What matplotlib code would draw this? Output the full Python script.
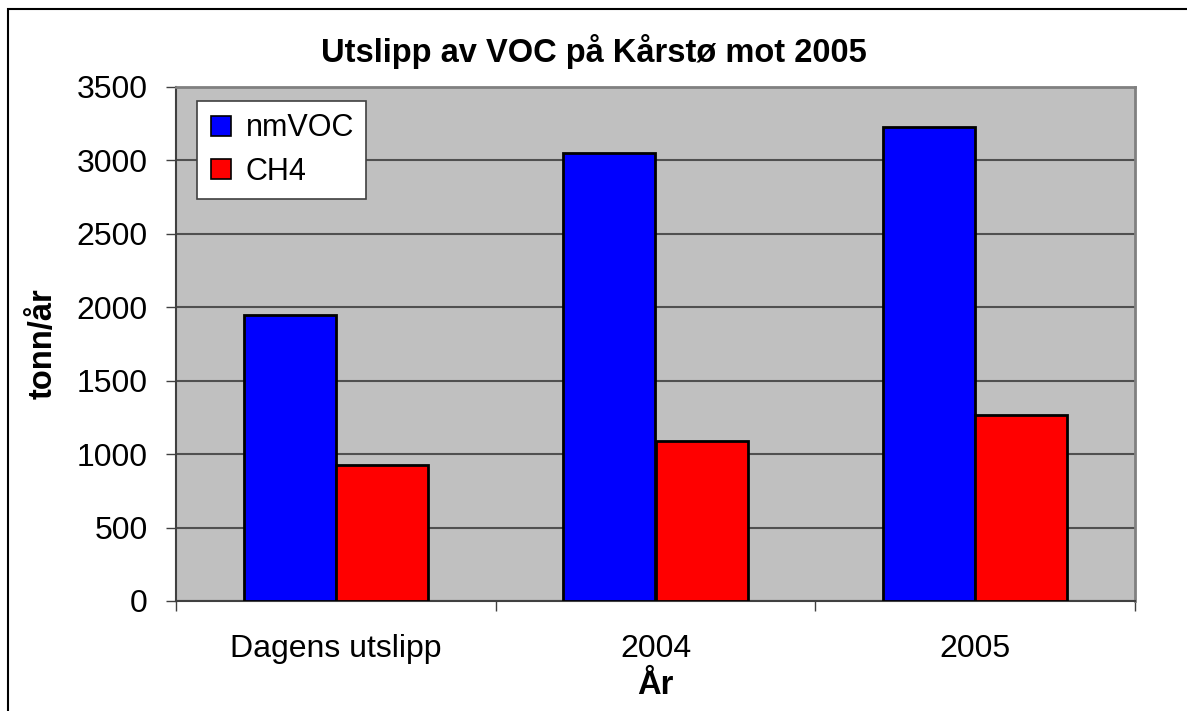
import numpy as np
import matplotlib.pyplot as plt
from matplotlib.patches import Rectangle
from matplotlib.lines import Line2D

plt.rcParams['font.family'] = ['Liberation Sans', 'DejaVu Sans']

# Data
categories = ["Dagens utslipp", "2004", "2005"]
nmvoc = [1950, 3050, 3225]
ch4 = [925, 1090, 1265]
series_names = ["nmVOC", "CH4"]
y_ticks = [0, 500, 1000, 1500, 2000, 2500, 3000, 3500]

W, H = 1187, 711
fig = plt.figure(figsize=(W / 100, H / 100), dpi=100)

# outer chart border (cropped at right/bottom in the original)
fig.patches.append(Rectangle((8 / W, -0.1), 1.2, 1 - 9 / H + 0.1, transform=fig.transFigure,
                             fill=False, edgecolor='black', linewidth=1.5))

ax = fig.add_axes([176 / W, 1 - 601 / H, (1135 - 176) / W, (601 - 87) / H])
ax.set_facecolor('#C0C0C0')

x = np.arange(len(categories))
bw = 0.288
ax.bar(x - bw / 2, nmvoc, bw, color='#0000FF', edgecolor='black', linewidth=2, zorder=3)
ax.bar(x + bw / 2, ch4, bw, color='#FF0000', edgecolor='black', linewidth=2, zorder=3)

ax.set_xlim(-0.5, len(categories) - 0.5)
ax.set_ylim(0, 3500)
ax.set_yticks(y_ticks)
ax.yaxis.grid(True, color='#505050', linewidth=1.5, zorder=1)
ax.set_axisbelow(True)

ax.set_xticks(x)
ax.set_xticklabels(categories)
ax.set_xticks(np.arange(len(categories) + 1) - 0.5, minor=True)
ax.tick_params(axis='x', which='major', length=0, pad=24, labelsize=23)
ax.tick_params(axis='x', which='minor', length=7, width=1, color='#404040', direction='out')
ax.tick_params(axis='y', length=7, width=1, color='#404040', labelsize=23, pad=13.5)

for side in ['top', 'right']:
    ax.spines[side].set_color('#808080')
    ax.spines[side].set_linewidth(2)
for side in ['left', 'bottom']:
    ax.spines[side].set_color('#404040')
    ax.spines[side].set_linewidth(1.5)

# title is centred on the whole chart, not on the plot area
fig.text(0.5, 1 - 62 / H, "Utslipp av VOC på Kårstø mot 2005", fontsize=23.5,
         fontweight='bold', ha='center', va='baseline')
ax.set_ylabel("tonn/år", fontsize=23.5, fontweight='bold')
ax.yaxis.set_label_coords(-0.122, 0.5)
ax.set_xlabel("År", fontsize=23.5, fontweight='bold')
ax.xaxis.set_label_coords(0.5, -0.134)

handles = [Line2D([], [], marker='s', linestyle='none', markersize=14, markerfacecolor=c,
                  markeredgecolor='black', markeredgewidth=1.2)
           for c in ['#0000FF', '#FF0000']]
leg = ax.legend(handles, series_names, loc='upper left', bbox_to_anchor=(21 / 959, 1 - 14 / 514),
                fontsize=22, frameon=True, fancybox=False, framealpha=1, handlelength=0.8,
                handletextpad=0.4, borderpad=0.4, labelspacing=0.45, borderaxespad=0)
leg.get_frame().set_edgecolor('#404040')
leg.get_frame().set_facecolor('white')
leg.get_frame().set_linewidth(1.2)
leg.set_zorder(5)

fig.savefig('out.png', dpi=100)
